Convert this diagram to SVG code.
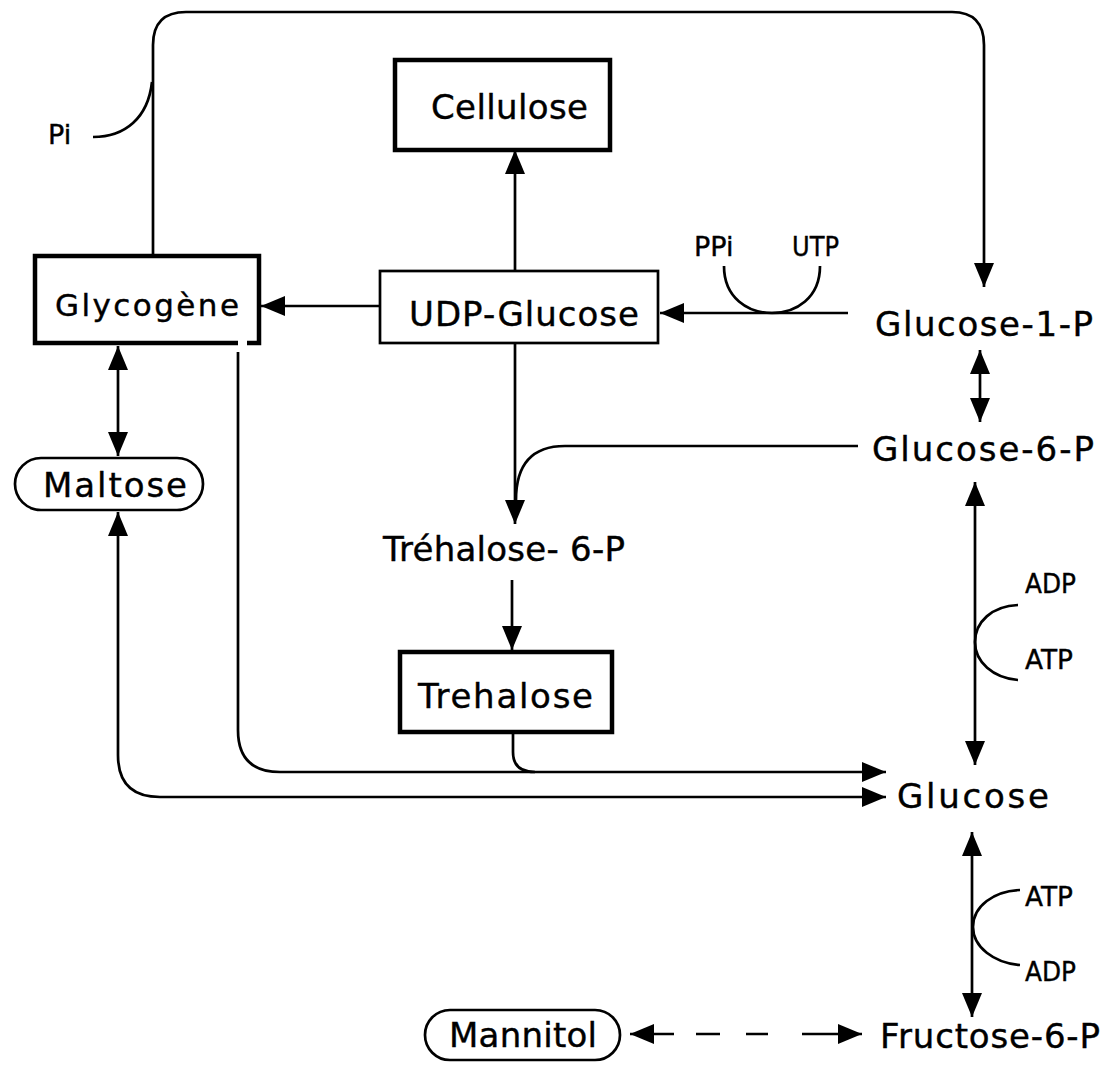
<svg xmlns="http://www.w3.org/2000/svg" width="1112" height="1068" viewBox="0 0 1112 1068">
  <style>
    .lbl { font-family: "DejaVu Sans", "Liberation Sans", sans-serif; fill: #000; stroke: #000; stroke-width: 0.4; }
    .big { font-size: 34px; }
    .mid { font-size: 31px; }
    .small { font-size: 27px; }
    .line { fill: none; stroke: #000; stroke-width: 2.7; }
    .box { fill: #fff; stroke: #000; stroke-width: 4.5; }
    .thin { fill: #fff; stroke: #000; stroke-width: 2.7; }
  </style>
  <defs>
    <marker id="ah" viewBox="0 0 24 20" refX="24" refY="10" markerWidth="24" markerHeight="20" orient="auto-start-reverse" markerUnits="userSpaceOnUse">
      <path d="M0,0 L24,10 L0,20 Z" fill="#000"/>
    </marker>
  </defs>

  <rect width="1112" height="1068" fill="#fff"/>

  <!-- connectors -->
  <g id="connectors">
    <!-- glycogen phosphorolysis loop to glucose-1-P -->
    <path class="line" d="M153,256 V45 Q153,12 186,12 H952 Q984,12 984,45 V287" marker-end="url(#ah)"/>
    <path class="line" d="M93,137 C125,137 148,118 152,82"/>
    <!-- UDP-glucose to cellulose -->
    <path class="line" d="M515,271 V150" marker-end="url(#ah)"/>
    <!-- glucose-1-P to UDP-glucose, with PPi/UTP -->
    <path class="line" d="M848,313 H660" marker-end="url(#ah)"/>
    <path class="line" d="M724,266 C724,298 748,313 772,313 C796,313 820,298 820,266"/>
    <!-- UDP-glucose to glycogen -->
    <path class="line" d="M380,306 H261" marker-end="url(#ah)"/>
    <!-- glycogen <-> maltose -->
    <path class="line" d="M118,346 V456" marker-start="url(#ah)" marker-end="url(#ah)"/>
    <!-- glucose-1-P <-> glucose-6-P -->
    <path class="line" d="M980,350 V422" marker-start="url(#ah)" marker-end="url(#ah)"/>
    <!-- UDP-glucose + glucose-6-P to trehalose-6-P -->
    <path class="line" d="M515,343 V524" marker-end="url(#ah)"/>
    <path class="line" d="M858,446 H565 Q516,446 516,500"/>
    <!-- trehalose-6-P to trehalose -->
    <path class="line" d="M512,580 V650" marker-end="url(#ah)"/>
    <!-- glucose-6-P <-> glucose with ADP/ATP -->
    <path class="line" d="M975,482 V765" marker-start="url(#ah)" marker-end="url(#ah)"/>
    <path class="line" d="M1018,605 C992,606 975,622 975,642 C975,662 993,678 1018,680"/>
    <!-- glycogen and trehalose to glucose -->
    <path class="line" d="M238,352 V730 Q238,772 280,772 H886" marker-end="url(#ah)"/>
    <path class="line" d="M513,732 V752 Q513,772 535,772"/>
    <!-- maltose to glucose -->
    <path class="line" d="M118,512 V755 Q118,797 160,797 H886" marker-start="url(#ah)" marker-end="url(#ah)"/>
    <!-- glucose <-> fructose-6-P with ATP/ADP -->
    <path class="line" d="M972,832 V1017" marker-start="url(#ah)" marker-end="url(#ah)"/>
    <path class="line" d="M1020,890 C994,891 973,906 973,927 C973,947 994,963 1020,965"/>
    <!-- mannitol <-> fructose-6-P -->
    <path class="line" d="M630,1034 H862" stroke-dasharray="44,22,24,26,22,34,200" marker-start="url(#ah)" marker-end="url(#ah)"/>
  </g>

  <g id="n-cellulose">
    <rect class="box" x="395" y="60" width="215" height="90"/>
    <text class="lbl big" x="431" y="119" textLength="157">Cellulose</text>
  </g>

  <g id="n-glycogene">
    <path class="box" d="M238,343 H35 V256 H259 V343 H247"/>
    <text class="lbl mid" x="55" y="316" textLength="184">Glycogène</text>
  </g>

  <g id="n-udpglucose">
    <rect class="thin" x="380" y="271" width="278" height="72"/>
    <text class="lbl big" x="409" y="326" textLength="230">UDP-Glucose</text>
  </g>

  <g id="n-pi">
    <text class="lbl small" x="48" y="144" font-size="28">Pi</text>
  </g>
  <g id="n-ppi">
    <text class="lbl small" x="694" y="256">PPi</text>
  </g>
  <g id="n-utp">
    <text class="lbl small" x="792" y="256" textLength="47" lengthAdjust="spacingAndGlyphs">UTP</text>
  </g>

  <g id="n-glucose1p">
    <text class="lbl big" x="875" y="336" textLength="218">Glucose-1-P</text>
  </g>

  <g id="n-glucose6p">
    <text class="lbl big" x="872" y="461" textLength="222">Glucose-6-P</text>
  </g>

  <g id="n-maltose">
    <rect class="thin" x="15" y="458" width="188" height="52" rx="26"/>
    <text class="lbl big" x="43" y="497" textLength="144">Maltose</text>
  </g>

  <g id="n-trehalose6p">
    <text class="lbl big" x="383" y="561" textLength="242">Tréhalose- 6-P</text>
  </g>

  <g id="n-trehalose">
    <rect class="box" x="400" y="652" width="212" height="80"/>
    <text class="lbl big" x="418" y="708" textLength="175">Trehalose</text>
  </g>

  <g id="n-adp1"><text class="lbl small" x="1025" y="593" textLength="51" lengthAdjust="spacingAndGlyphs">ADP</text></g>
  <g id="n-atp1"><text class="lbl small" x="1025" y="669" textLength="48" lengthAdjust="spacingAndGlyphs">ATP</text></g>

  <g id="n-glucose">
    <text class="lbl big" x="897" y="808" textLength="152">Glucose</text>
  </g>

  <g id="n-atp2"><text class="lbl small" x="1025" y="906" textLength="48" lengthAdjust="spacingAndGlyphs">ATP</text></g>
  <g id="n-adp2"><text class="lbl small" x="1025" y="981" textLength="51" lengthAdjust="spacingAndGlyphs">ADP</text></g>

  <g id="n-mannitol">
    <rect class="thin" x="425" y="1010" width="195" height="50" rx="25"/>
    <text class="lbl big" x="449" y="1047" textLength="148">Mannitol</text>
  </g>

  <g id="n-fructose6p">
    <text class="lbl big" x="880" y="1048" textLength="220">Fructose-6-P</text>
  </g>
</svg>
